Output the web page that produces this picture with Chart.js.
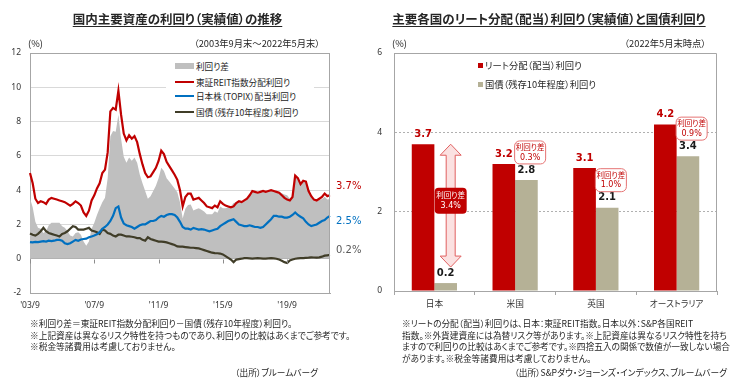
<!DOCTYPE html>
<html lang="ja">
<head>
<meta charset="utf-8">
<script src="https://cdn.jsdelivr.net/npm/chart.js@4.4.0/dist/chart.umd.min.js"></script>
<style>
  body { margin: 0; width: 731px; height: 382px; background: #fff; position: relative; overflow: hidden;
         font-family: "Noto Sans CJK JP", sans-serif; color: #262626; font-feature-settings: "palt"; }
  canvas { position: absolute; top: 0; }
  .t { position: absolute; white-space: pre; z-index: 2; }
  .title { font-weight: bold; text-decoration: underline; text-underline-offset: 2px; text-align: center; top: 11px; font-size: 12.5px; line-height: 16px; }
  .small { font-size: 9.3px; line-height: 11px; }
  .note { font-size: 8.7px; line-height: 11.7px; }
  .legend { position: absolute; background: #fff; z-index: 2; }
  .legend div { position: absolute; left: 0; font-size: 8.6px; line-height: 12px; white-space: pre; }
  .sw { position: absolute; }
</style>
</head>
<body>

<div class="t title" style="left:0;width:355px;">国内主要資産の利回り（実績値）の推移</div>
<div class="t title" style="left:372px;width:354px;">主要各国のリート分配（配当）利回り（実績値）と国債利回り</div>

<div class="t small" style="left:28px;top:38px;">(%)</div>
<div class="t small" style="right:411px;top:38px;">（2003年9月末～2022年5月末）</div>
<div class="t small" style="left:392px;top:38px;">(%)</div>
<div class="t small" style="right:25px;top:38px;">（2022年5月末時点）</div>

<div class="legend" style="left:166px;top:58px;width:148px;height:62px;">
  <span class="sw" style="left:9px;top:5px;width:19px;height:6px;background:#bfbfbf;"></span>
  <div style="left:30px;top:2px;">利回り差</div>
  <span class="sw" style="left:9px;top:23px;width:19px;height:2px;background:#c00000;"></span>
  <div style="left:30px;top:18px;">東証REIT指数分配利回り</div>
  <span class="sw" style="left:9px;top:37px;width:19px;height:2px;background:#0070c0;"></span>
  <div style="left:30px;top:32px;">日本株（TOPIX）配当利回り</div>
  <span class="sw" style="left:9px;top:53px;width:19px;height:2px;background:#403d28;"></span>
  <div style="left:30px;top:48px;">国債（残存10年程度）利回り</div>
</div>

<div class="legend" style="left:476px;top:58px;width:140px;height:34px;background:transparent;">
  <span class="sw" style="left:2px;top:5px;width:5px;height:5px;background:#c00000;"></span>
  <div style="left:9px;top:1px;font-size:9.3px;">リート分配（配当）利回り</div>
  <span class="sw" style="left:2px;top:24px;width:5px;height:5px;background:#b5b196;"></span>
  <div style="left:9px;top:20px;font-size:9.3px;">国債（残存10年程度）利回り</div>
</div>

<div class="t note" style="left:30px;top:318px;">※利回り差＝東証REIT指数分配利回り－国債（残存10年程度）利回り。
※上記資産は異なるリスク特性を持つものであり、利回りの比較はあくまでご参考です。
※税金等諸費用は考慮しておりません。</div>
<div class="t note" style="right:413px;top:367px;">（出所）ブルームバーグ</div>

<div class="t note" style="left:402px;top:318px;">※リートの分配（配当）利回りは、日本：東証REIT指数。日本以外：S&amp;P各国REIT
指数。※外貨建資産には為替リスク等があります。※上記資産は異なるリスク特性を持ち
ますので利回りの比較はあくまでご参考です。※四捨五入の関係で数値が一致しない場合
があります。※税金等諸費用は考慮しておりません。</div>
<div class="t note" style="right:4px;top:367px;">（出所）S&amp;Pダウ・ジョーンズ・インデックス、ブルームバーグ</div>

<canvas id="yieldChart" width="365" height="320" style="left:0;"></canvas>
<canvas id="reitChart" width="366" height="320" style="left:365px;"></canvas>

<script>
// left chart: bi-monthly readings, 2003/9 .. 2022/5 (%)
var startYear = 2003, startMonth = 9, pointCount = 113;
var tickMonths = ['2003/9', '2007/9', '2011/9', '2015/9', '2019/9'];

var reitYield = [
    5.0, 4.4, 3.5, 3.25, 3.35, 3.3, 3.2, 3.45, 3.55, 3.5,
    3.45, 3.4, 3.35, 3.3, 3.2, 3.1, 3.2, 3.35, 3.25, 3.1,
    2.7, 2.5, 2.8, 3.4, 3.7, 4.1, 4.4, 5.0, 5.2, 6.2,
    8.6, 8.8, 8.7, 9.8, 8.4, 7.3, 6.9, 7.2, 7.0, 7.15,
    6.8, 6.1, 5.5, 5.0, 4.75, 4.8, 5.05, 5.3, 5.7, 6.3,
    6.1, 5.65, 5.4, 5.15, 4.9, 4.6, 4.0, 3.05, 3.6, 3.8,
    3.8, 3.45, 3.5, 3.55, 3.4, 3.25, 3.05, 3.0, 2.95, 3.1,
    3.0, 3.35, 3.2, 3.1, 3.05, 3.0, 3.05, 3.25, 3.35, 3.3,
    3.4, 3.5, 3.7, 3.95, 3.9, 3.85, 3.9, 3.95, 3.9, 3.95,
    4.0, 3.95, 3.9, 3.85, 3.7, 3.55, 3.45, 3.4, 3.6, 4.85,
    4.7, 4.35, 4.55, 4.5, 3.95, 3.65, 3.45, 3.4, 3.5, 3.6,
    3.8, 3.65, 3.7
];
var topixYield = [
    0.97, 0.95, 0.98, 0.97, 1.0, 1.02, 1.0, 1.05, 1.03, 1.05,
    1.1, 1.1, 1.05, 0.9, 0.85, 0.9, 1.0, 1.1, 1.05, 1.12,
    1.15, 1.17, 1.25, 1.3, 1.35, 1.42, 1.55, 1.75, 1.85, 2.0,
    2.2, 2.5, 2.95, 3.05, 2.4, 2.05, 1.95, 1.9, 1.85, 1.75,
    1.85, 1.95, 2.0, 2.0, 2.1, 2.2, 2.2, 2.25, 2.4, 2.5,
    2.45, 2.55, 2.6, 2.6, 2.55, 2.4, 2.15, 1.85, 1.75, 1.75,
    1.7, 1.8, 1.75, 1.7, 1.72, 1.7, 1.65, 1.6, 1.65, 1.7,
    1.75, 1.9, 2.0, 2.1, 2.2, 2.25, 2.3, 2.15, 2.0, 1.95,
    1.9, 1.9, 1.95, 1.9, 1.85, 1.85, 1.8, 1.85, 2.0, 2.15,
    2.3, 2.5, 2.5, 2.45, 2.45, 2.4, 2.4, 2.45, 2.55, 2.7,
    2.55, 2.45, 2.35, 2.15, 2.0, 1.9, 1.95, 2.0, 2.1, 2.2,
    2.25, 2.4, 2.5
];
var jgbYield = [
    1.47, 1.4, 1.35, 1.45, 1.6, 1.8, 1.6, 1.5, 1.45, 1.4,
    1.35, 1.3, 1.45, 1.5, 1.6, 1.75, 1.9, 1.85, 1.7, 1.7,
    1.7, 1.75, 1.8, 1.65, 1.6, 1.55, 1.45, 1.7, 1.65, 1.5,
    1.45, 1.35, 1.3, 1.4, 1.4, 1.35, 1.3, 1.3, 1.28, 1.25,
    1.2, 1.2, 1.1, 1.05, 1.25, 1.15, 1.1, 1.05, 1.0, 1.0,
    0.98, 0.95, 0.9, 0.85, 0.8, 0.72, 0.7, 0.7, 0.68, 0.66,
    0.64, 0.64, 0.62, 0.6, 0.55, 0.5, 0.45, 0.4, 0.35, 0.33,
    0.32, 0.3, 0.25, 0.15, 0.05, -0.05, -0.2, -0.05, -0.02, 0.0,
    0.03, 0.03, 0.02, 0.0, 0.02, 0.03, 0.02, 0.0, 0.01, 0.02,
    0.03, 0.02, 0.0, -0.05, -0.12, -0.2, -0.25, -0.1, -0.05, 0.0,
    0.02, 0.03, 0.04, 0.05, 0.06, 0.08, 0.07, 0.06, 0.08, 0.12,
    0.18, 0.2, 0.22
];

// right chart
var countries = ['日本', '米国', '英国', 'オーストラリア'];
var reitDistYield = [3.7, 3.2, 3.1, 4.2];
var govBondYield = [0.2, 2.8, 2.1, 3.4];
var yieldGap = [3.4, 0.3, 1.0, 0.9];

var months = [];
for (var i = 0; i < pointCount; i++) {
    var m = startMonth - 1 + i * 2;
    months.push((startYear + Math.floor(m / 12)) + '/' + (m % 12 + 1));
}
// 利回り差 = 東証REIT指数分配利回り - 国債利回り
var yieldSpread = reitYield.map(function (v, k) { return +(v - jgbYield[k]).toFixed(2); });

var numFont = { family: '"Noto Sans", sans-serif', size: 8.5 };

var yieldExtras = {
    id: 'yieldExtras',
    afterDraw: function (chart) {
        var ctx = chart.ctx,
            area = chart.chartArea,
            xs = chart.scales.x,
            ys = chart.scales.y;
        ctx.save();
        ctx.strokeStyle = '#a6a6a6';
        ctx.lineWidth = 1;
        ctx.beginPath();
        ctx.moveTo(Math.round(area.right) - 0.5, area.top);
        ctx.lineTo(Math.round(area.right) - 0.5, area.bottom);
        ctx.stroke();

        var y0 = Math.round(ys.getPixelForValue(0)) + 0.5;
        ctx.strokeStyle = '#8c8c8c';
        ctx.beginPath();
        tickMonths.forEach(function (lab) {
            var px = Math.round(xs.getPixelForValue(months.indexOf(lab))) + 0.5;
            ctx.moveTo(px, y0);
            ctx.lineTo(px, y0 + 4);
        });
        ctx.stroke();

        var endColors = ['#c00000', '#0070c0', '#595959'],
            nudges = [-9, 6, -5];
        ctx.font = '10px "DejaVu Sans", sans-serif';
        ctx.textBaseline = 'middle';
        ctx.textAlign = 'left';
        [0, 1, 2].forEach(function (d) {
            var ds = chart.data.datasets[d],
                last = ds.data[ds.data.length - 1];
            ctx.fillStyle = endColors[d];
            ctx.fillText(last.toFixed(1) + '%', area.right + 6, ys.getPixelForValue(last) + nudges[d]);
        });
        ctx.restore();
    }
};

new Chart(document.getElementById('yieldChart').getContext('2d'), {
    type: 'line',
    data: {
        labels: months,
        datasets: [
            { label: '東証REIT指数分配利回り', data: reitYield, borderColor: '#c00000', borderWidth: 2.2, pointRadius: 0, fill: false },
            { label: '日本株（TOPIX）配当利回り', data: topixYield, borderColor: '#0070c0', borderWidth: 2.2, pointRadius: 0, fill: false },
            { label: '国債（残存10年程度）利回り', data: jgbYield, borderColor: '#403d28', borderWidth: 2.2, pointRadius: 0, fill: false },
            { label: '利回り差', data: yieldSpread, borderColor: 'rgba(0,0,0,0)', borderWidth: 0, backgroundColor: '#bfbfbf', pointRadius: 0, fill: 'origin' }
        ]
    },
    options: {
        responsive: false,
        animation: false,
        layout: { padding: { top: 53, right: 35, left: 0, bottom: 0 } },
        plugins: { legend: { display: false }, tooltip: { enabled: false } },
        scales: {
            x: {
                offset: false,
                grid: { display: false, drawTicks: false },
                border: { display: true, color: '#a6a6a6' },
                ticks: {
                    autoSkip: false, maxRotation: 0, padding: 7, color: '#333', font: numFont,
                    callback: function (val) {
                        var lab = this.getLabelForValue(val);
                        if (tickMonths.indexOf(lab) < 0) return null;
                        return "'" + lab.slice(2, 4) + '/' + lab.split('/')[1];
                    }
                },
                afterFit: function (s) { s.height = 27; }
            },
            y: {
                min: -2, max: 12,
                ticks: { stepSize: 2, padding: 9, color: '#333', font: numFont },
                grid: {
                    drawTicks: false,
                    color: function (c) {
                        if (c.tick.value === 0) return '#8c8c8c';
                        if (c.tick.value === 12) return '#a6a6a6';
                        return '#d9d9d9';
                    }
                },
                border: { display: true, color: '#a6a6a6' },
                afterFit: function (s) { s.width = 30; }
            }
        }
    },
    plugins: [yieldExtras]
});

var reitExtras = {
    id: 'reitExtras',
    afterDatasetsDraw: function (chart) {
        var ctx = chart.ctx,
            area = chart.chartArea,
            redBars = chart.getDatasetMeta(0).data,
            grayBars = chart.getDatasetMeta(1).data;
        ctx.save();
        ctx.strokeStyle = '#a6a6a6';
        ctx.lineWidth = 1;
        ctx.beginPath();
        ctx.moveTo(area.left, Math.round(area.top) + 0.5);
        ctx.lineTo(Math.round(area.right) - 0.5, Math.round(area.top) + 0.5);
        ctx.lineTo(Math.round(area.right) - 0.5, area.bottom);
        ctx.stroke();

        // value labels
        ctx.font = 'bold 10px "DejaVu Sans", sans-serif';
        ctx.textAlign = 'center';
        ctx.textBaseline = 'bottom';
        redBars.forEach(function (b, k) {
            ctx.fillStyle = '#c00000';
            ctx.fillText(reitDistYield[k].toFixed(1), b.x, b.y - 5);
            ctx.fillStyle = '#1a1a1a';
            ctx.fillText(govBondYield[k].toFixed(1), grayBars[k].x, grayBars[k].y - 5);
        });

        // yield gap callouts
        countries.forEach(function (c, k) {
            var g = grayBars[k],
                gapText = yieldGap[k].toFixed(1) + '%';
            if (k === 0) {
                var cx = g.x + 5, top = redBars[k].y, bottom = g.y - 16,
                    hw = 10.5, sw = 4.5, hl = 11;
                ctx.beginPath();
                ctx.moveTo(cx, top);
                ctx.lineTo(cx + hw, top + hl);
                ctx.lineTo(cx + sw, top + hl);
                ctx.lineTo(cx + sw, bottom - hl);
                ctx.lineTo(cx + hw, bottom - hl);
                ctx.lineTo(cx, bottom);
                ctx.lineTo(cx - hw, bottom - hl);
                ctx.lineTo(cx - sw, bottom - hl);
                ctx.lineTo(cx - sw, top + hl);
                ctx.lineTo(cx - hw, top + hl);
                ctx.closePath();
                ctx.fillStyle = '#fbe1e1';
                ctx.fill();
                ctx.strokeStyle = '#e06060';
                ctx.stroke();

                var my = (top + bottom) / 2 - 5;
                ctx.beginPath();
                ctx.roundRect(cx - 16, my - 13, 32, 26, 4);
                ctx.fillStyle = '#c00000';
                ctx.fill();
                drawGapText(ctx, cx, my, gapText, '#fff');
            } else {
                var left = g.x - g.width / 2,
                    boxBottom = g.y - 16;
                ctx.beginPath();
                ctx.roundRect(left - 0.5, boxBottom - 23, 31, 23, 5);
                ctx.fillStyle = '#fff';
                ctx.fill();
                ctx.strokeStyle = '#e57373';
                ctx.stroke();
                drawGapText(ctx, left + 15, boxBottom - 11.5, gapText, '#c00000');
            }
        });
        ctx.restore();
    }
};

function drawGapText(ctx, x, y, gapText, color) {
    ctx.fillStyle = color;
    ctx.textAlign = 'center';
    ctx.textBaseline = 'middle';
    ctx.font = '7.5px "Noto Sans CJK JP", sans-serif';
    ctx.fillText('利回り差', x, y - 5);
    ctx.font = '8px "DejaVu Sans", sans-serif';
    ctx.fillText(gapText, x, y + 5);
}

new Chart(document.getElementById('reitChart').getContext('2d'), {
    type: 'bar',
    data: {
        labels: countries,
        datasets: [
            { label: 'リート分配（配当）利回り', data: reitDistYield, backgroundColor: '#c00000', categoryPercentage: 0.56, barPercentage: 1 },
            { label: '国債（残存10年程度）利回り', data: govBondYield, backgroundColor: '#b5b196', categoryPercentage: 0.56, barPercentage: 1 }
        ]
    },
    options: {
        responsive: false,
        animation: false,
        layout: { padding: { top: 53, right: 14, left: 0, bottom: 0 } },
        plugins: { legend: { display: false }, tooltip: { enabled: false } },
        scales: {
            x: {
                grid: { offset: true, drawOnChartArea: false, tickLength: 4, color: '#a6a6a6' },
                border: { display: true, color: '#a6a6a6' },
                ticks: { padding: 3, color: '#333', font: { family: '"Noto Sans CJK JP", sans-serif', size: 8.7 } },
                afterFit: function (s) { s.height = 29; }
            },
            y: {
                min: 0, max: 6,
                ticks: { stepSize: 2, padding: 12, color: '#333', font: numFont },
                grid: {
                    drawTicks: false,
                    color: function (c) { return c.tick.value === 6 ? 'rgba(0,0,0,0)' : '#b0b0b0'; }
                },
                border: { display: true, color: '#a6a6a6', dash: [2, 2] },
                afterFit: function (s) { s.width = 29; }
            }
        }
    },
    plugins: [reitExtras]
});
</script>
</body>
</html>
